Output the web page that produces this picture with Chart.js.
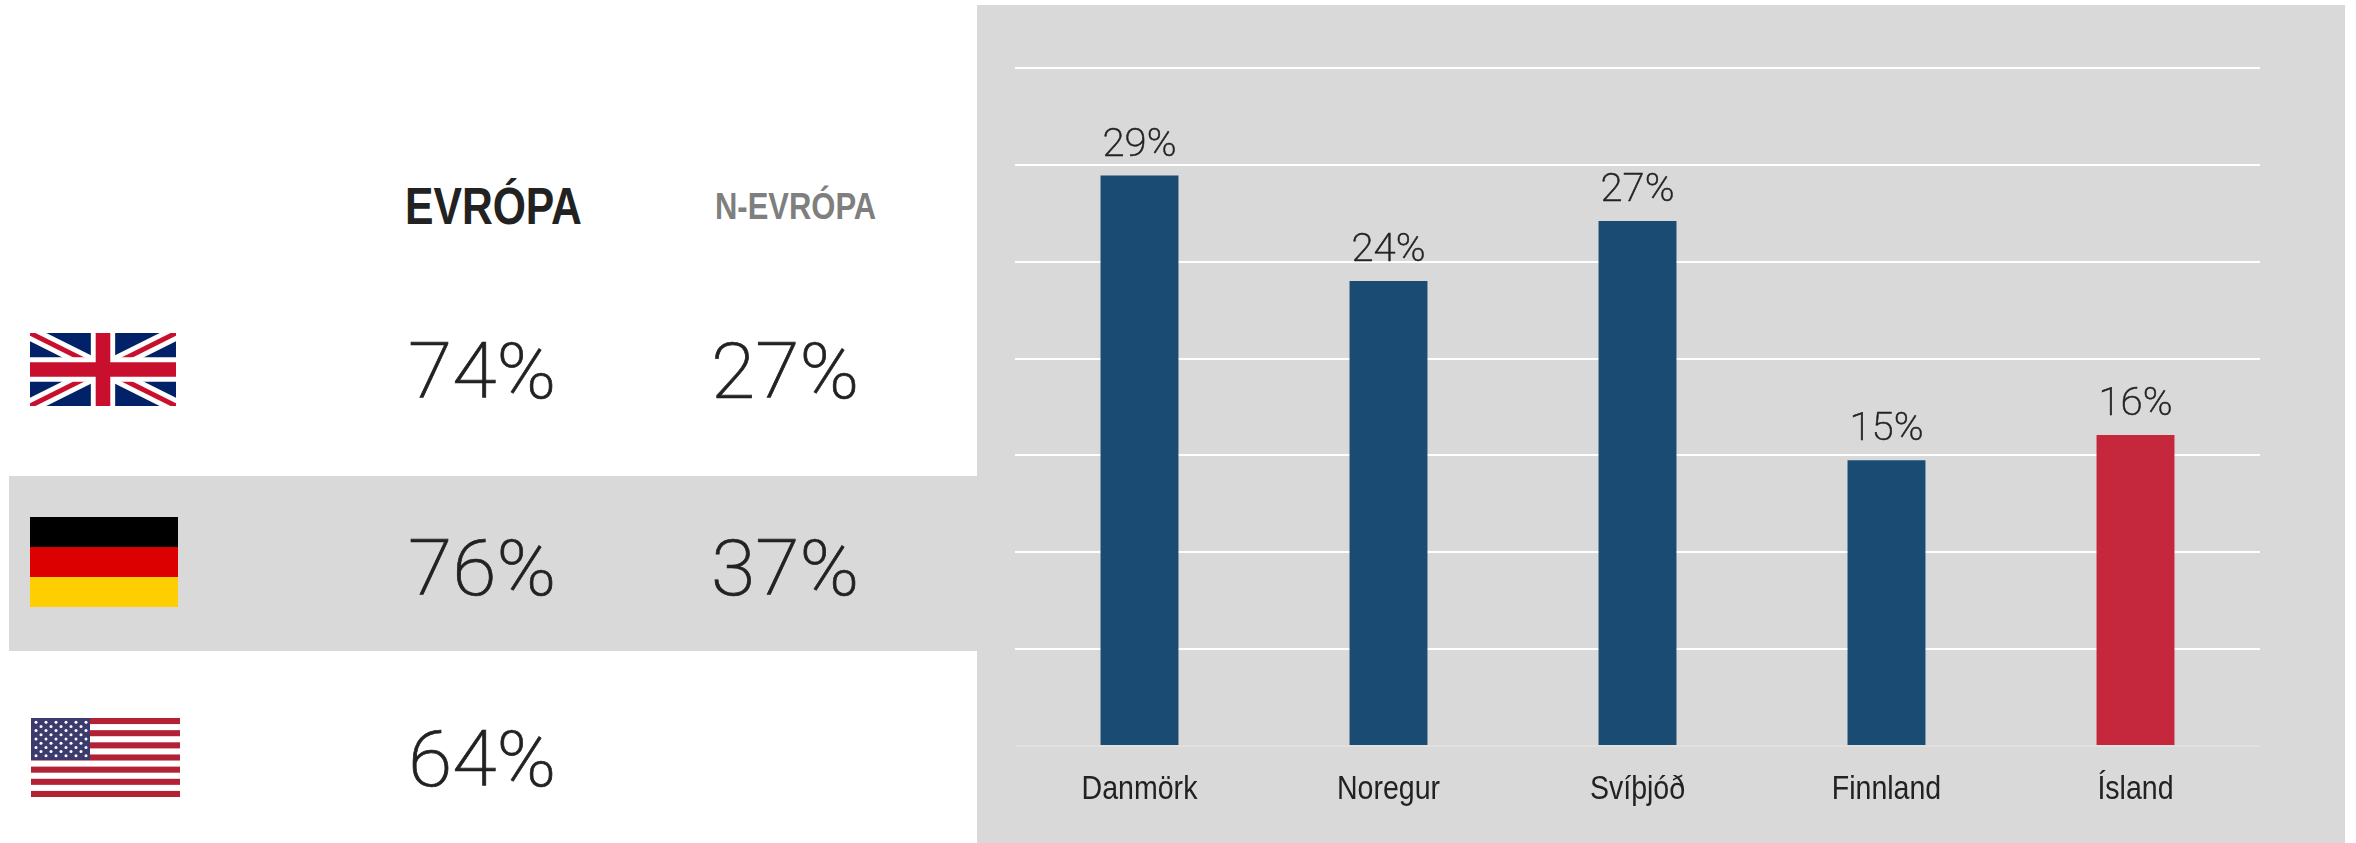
<!DOCTYPE html>
<html><head><meta charset="utf-8">
<script src="https://cdn.jsdelivr.net/npm/chart.js@4"></script>
<style>
html,body{margin:0;padding:0;background:#fff;width:2356px;height:843px;overflow:hidden}
#stage{position:relative;width:2356px;height:843px;background:#fff}
.box{position:absolute;background:#d9d9d9}
.t{position:absolute;white-space:pre;line-height:1;transform-origin:left top}
.num{font:200 78px Roboto,"Liberation Sans",sans-serif;color:#222;-webkit-text-stroke:0.7px #222}
.hd{font-family:"Liberation Sans",sans-serif;font-weight:700}
svg{position:absolute;display:block}
canvas{position:absolute;left:977px;top:5px}
</style></head><body>
<div id="stage">
  <div class="box" style="left:977px;top:5px;width:1368px;height:838px"></div>
  <div class="box" style="left:9px;top:476px;width:968px;height:175px"></div>
  <canvas id="c" width="1368" height="838"></canvas>
</div>
<script>
const categories = ["Danmörk","Noregur","Svíþjóð","Finnland","Ísland"];
const shares = [29.45,24,27.1,14.75,16.05];
const shareLabels = ["29%","24%","27%","15%","16%"];
const barColors = ["#1a4b73","#1a4b73","#1a4b73","#1a4b73","#c5283d"];
const gridTicks = [0,5,10,15,20,25,30,35];
const columnHeads = ["EVRÓPA","N-EVRÓPA"];
const europeValues = ["74%","76%","64%"];
const northValues = ["27%","37%",""];

const stage = document.getElementById('stage');
function addText(str, cls, x, baseline, css, sx){
  const d = document.createElement('div');
  d.className = 't ' + cls; d.textContent = str;
  d.style.cssText = 'left:'+x+'px;top:0;' + css + (sx?';transform:scaleX('+sx+')':'');
  const probe = document.createElement('span');
  probe.style.cssText='display:inline-block;width:0;height:0;vertical-align:baseline';
  d.appendChild(probe);
  stage.appendChild(d);
  const base = probe.getBoundingClientRect().bottom;
  d.removeChild(probe);
  d.style.top = (baseline - base) + 'px';
}
function placeTexts(){
  addText(columnHeads[0],'hd',405,224,'font-size:52px;color:#222',0.82);
  addText(columnHeads[1],'hd',715,218.5,'font-size:36px;color:#7f7f7f',0.86);
  const rowBase = [398,595,786];
  europeValues.forEach((v,i)=>addText(v,'num',408,rowBase[i],'',1.03));
  northValues.forEach((v,i)=>{ if(v) addText(v,'num',711,rowBase[i],'',1.03); });
}
placeTexts();

// flags
const NS='http://www.w3.org/2000/svg';
function flag(x,y,w,h,vw,vh,inner){
  const s=document.createElementNS(NS,'svg');
  s.setAttribute('width',w);s.setAttribute('height',h);
  s.setAttribute('viewBox','0 0 '+vw+' '+vh);
  s.setAttribute('preserveAspectRatio','none');
  s.style.left=x+'px';s.style.top=y+'px';
  s.innerHTML=inner;stage.appendChild(s);
}
flag(30,333,146,73,60,30,
 '<clipPath id="u"><rect width="60" height="30"/></clipPath><g clip-path="url(#u)">'+
 '<rect width="60" height="30" fill="#012169"/>'+
 '<path d="M0,0 L60,30 M60,0 L0,30" stroke="#fff" stroke-width="6"/>'+
 '<path d="M0,0 L30,15 M60,30 L30,15 M60,0 L30,15 M0,30 L30,15" stroke="#c8102e" stroke-width="2"/>'+
 '<path d="M30,0 V30 M0,15 H60" stroke="#fff" stroke-width="10"/>'+
 '<path d="M30,0 V30 M0,15 H60" stroke="#c8102e" stroke-width="6"/></g>');
flag(30,517,148,90,3,3,
 '<rect width="3" height="1" y="0" fill="#000"/><rect width="3" height="1" y="1" fill="#dd0000"/><rect width="3" height="1" y="2" fill="#ffce00"/>');
let us='<rect width="149" height="79" fill="#fff"/>';
for(let i=0;i<7;i++) us+='<rect y="'+(i*2*79/13)+'" width="149" height="'+(79/13)+'" fill="#b22234"/>';
us+='<rect width="59" height="42" fill="#3c3b6e"/>';
for(let r=0;r<9;r++){const odd=r%2; const n=odd?5:6;
  for(let k=0;k<n;k++){us+='<circle cx="'+(5+(odd?5:0)+k*10)+'" cy="'+(4.2+r*4.2)+'" r="1.5" fill="#fff"/>';}}
flag(31,718,149,79,149,79,us);

function stretchedText(ctx,str,x,y,sx,stroke){
  ctx.save();ctx.translate(x,y);ctx.scale(sx,1);
  if(stroke){ctx.lineWidth=stroke;ctx.strokeStyle=ctx.fillStyle;ctx.strokeText(str,0,0);}
  ctx.fillText(str,0,0);ctx.restore();
}
const valueLabels = {
  id:'valueLabels',
  afterDatasetsDraw(chart){
    const {ctx} = chart; const meta = chart.getDatasetMeta(0);
    ctx.save();
    ctx.font = '200 39px Roboto,"Liberation Sans",sans-serif';
    ctx.fillStyle = '#222'; ctx.textAlign='center'; ctx.textBaseline='alphabetic';
    meta.data.forEach((b,i)=>stretchedText(ctx,shareLabels[i],b.x,b.y-20,1.03,0.5));
    ctx.restore();
  }
};
const narrowTicks = {
  id:'narrowTicks',
  afterDraw(chart){
    const {ctx} = chart; const xs = chart.scales.x;
    ctx.save();
    ctx.font = '33px "Liberation Sans",sans-serif';
    ctx.fillStyle = '#222'; ctx.textAlign='center'; ctx.textBaseline='alphabetic';
    categories.forEach((c,i)=>stretchedText(ctx,c,xs.getPixelForTick(i),chart.chartArea.bottom+53,0.865));
    ctx.restore();
  }
};
new Chart(document.getElementById('c'),{
  type:'bar',
  data:{labels:categories,datasets:[{data:shares,backgroundColor:barColors,borderWidth:0,categoryPercentage:1,barPercentage:0.313}]},
  plugins:[valueLabels,narrowTicks],
  options:{
    responsive:false,animation:false,
    layout:{padding:{left:38,right:85,top:63,bottom:0}},
    plugins:{legend:{display:false},tooltip:{enabled:false}},
    scales:{
      x:{grid:{display:false},border:{display:false},
         afterFit(s){s.height=97;},
         ticks:{display:false}},
      y:{min:0,max:35,
         afterBuildTicks(s){s.ticks=gridTicks.map(v=>({value:v}));},
         afterFit(s){s.width=0;},
         ticks:{display:false},
         border:{display:false},
         grid:{drawTicks:false,lineWidth:2,color:c=>c.tick.value===0?'#e0e0e0':'#ffffff'}}
    }
  }
});
</script>
</body></html>
